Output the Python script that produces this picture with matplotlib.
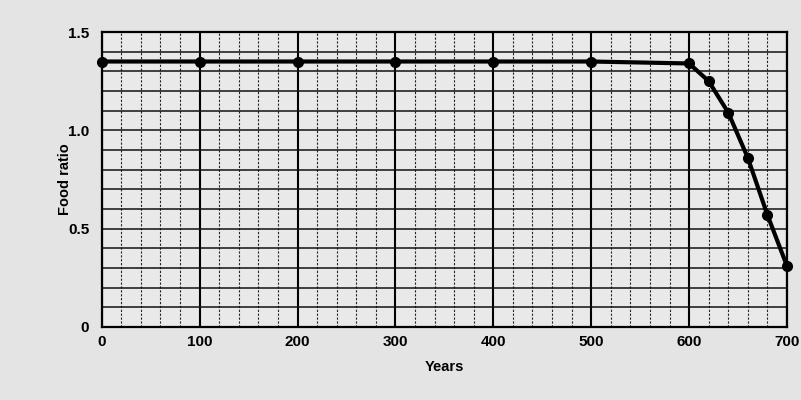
import matplotlib.pyplot as plt
from matplotlib.ticker import MultipleLocator

years = [0, 100, 200, 300, 400, 500, 600, 620, 640, 660, 680, 700]
food_ratio = [1.35, 1.35, 1.35, 1.35, 1.35, 1.35, 1.34, 1.25, 1.09, 0.86, 0.57, 0.31]
x_ticks = [0, 100, 200, 300, 400, 500, 600, 700]
y_ticks = [0, 0.5, 1.0, 1.5]
y_labels = ['0', '0.5', '1.0', '1.5']

plt.rcParams['font.family'] = ['Liberation Sans', 'DejaVu Sans']
plt.rcParams['font.weight'] = 'bold'

fig = plt.figure(figsize=(8.01, 4), dpi=100, facecolor='#e4e4e4')
ax = fig.add_axes([0.127, 0.1825, 0.8555, 0.7375])
ax.set_facecolor('#e9e9e9')

# paper-like grid: heavy every 100 yrs, dashed every 20 yrs, lines every 0.1
ax.xaxis.set_minor_locator(MultipleLocator(20))
ax.yaxis.set_minor_locator(MultipleLocator(0.1))
ax.grid(which='major', axis='x', color='black', lw=1.5)
ax.grid(which='minor', axis='x', color='#222222', lw=0.8, ls=(0, (2, 1.5)))
ax.grid(which='both', axis='y', color='#111111', lw=1.1)
ax.set_axisbelow(True)

ax.plot(years, food_ratio, color='black', lw=3, marker='o', ms=7,
        zorder=5, clip_on=False)

ax.set_xlim(0, 700)
ax.set_ylim(0, 1.5)
ax.set_xticks(x_ticks)
ax.set_yticks(y_ticks)
ax.set_yticklabels(y_labels)
ax.tick_params(which='both', length=0, labelsize=11)
ax.tick_params(axis='x', pad=6)
ax.tick_params(axis='y', pad=9)
for s in ax.spines.values():
    s.set_linewidth(1.6)

ax.set_xlabel('Years', fontsize=10.5, fontweight='bold', labelpad=8)
ax.set_ylabel('Food ratio', fontsize=10.5, fontweight='bold', labelpad=-3)

fig.savefig('out.png', dpi=100, facecolor=fig.get_facecolor())
